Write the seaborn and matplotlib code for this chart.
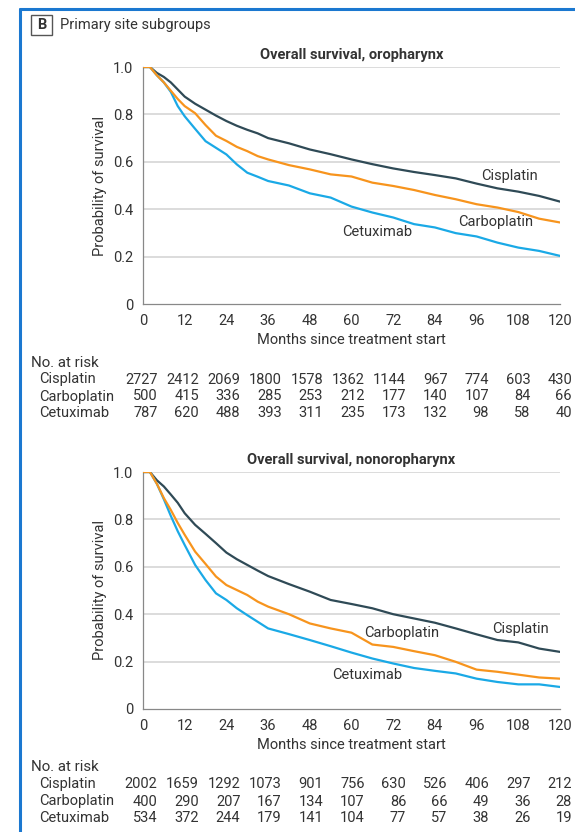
import numpy as np
import pandas as pd
import matplotlib
matplotlib.use("Agg")
import matplotlib.pyplot as plt
import seaborn as sns
from matplotlib.lines import Line2D
from matplotlib.patches import Rectangle

# ---------------- data ----------------
months = [0, 2, 4, 6, 8, 10, 12, 15, 18, 21, 24, 27, 30, 33, 36, 42, 48, 54,
          60, 66, 72, 78, 84, 90, 96, 102, 108, 114, 120]
series_names = ["Cisplatin", "Carboplatin", "Cetuximab"]

oro_cisplatin = [1.0, 1.0, 0.975, 0.958, 0.935, 0.905, 0.875, 0.845, 0.82, 0.795, 0.772,
                 0.752, 0.735, 0.72, 0.70, 0.678, 0.652, 0.632, 0.61, 0.59, 0.572, 0.557,
                 0.544, 0.53, 0.508, 0.488, 0.474, 0.456, 0.432]
oro_carboplatin = [1.0, 1.0, 0.965, 0.935, 0.90, 0.865, 0.835, 0.805, 0.755, 0.71, 0.688,
                   0.663, 0.645, 0.624, 0.61, 0.586, 0.568, 0.547, 0.538, 0.512, 0.498,
                   0.481, 0.46, 0.442, 0.421, 0.407, 0.388, 0.36, 0.344]
oro_cetuximab = [1.0, 1.0, 0.965, 0.935, 0.895, 0.835, 0.792, 0.739, 0.687, 0.659, 0.631,
                 0.589, 0.554, 0.537, 0.519, 0.50, 0.467, 0.449, 0.411, 0.386, 0.365,
                 0.337, 0.323, 0.299, 0.285, 0.259, 0.238, 0.224, 0.203]

non_cisplatin = [1.0, 1.0, 0.965, 0.939, 0.905, 0.87, 0.826, 0.777, 0.739, 0.70, 0.66,
                 0.632, 0.608, 0.584, 0.561, 0.527, 0.495, 0.46, 0.443, 0.425, 0.40,
                 0.382, 0.364, 0.34, 0.315, 0.291, 0.281, 0.255, 0.241]
non_carboplatin = [1.0, 1.0, 0.95, 0.89, 0.84, 0.785, 0.735, 0.664, 0.612, 0.559, 0.523,
                   0.502, 0.481, 0.453, 0.432, 0.40, 0.361, 0.34, 0.322, 0.272, 0.262,
                   0.244, 0.227, 0.199, 0.166, 0.157, 0.145, 0.133, 0.128]
non_cetuximab = [1.0, 1.0, 0.95, 0.885, 0.815, 0.75, 0.692, 0.608, 0.544, 0.488, 0.46,
                 0.425, 0.396, 0.368, 0.34, 0.316, 0.291, 0.265, 0.238, 0.213, 0.192,
                 0.173, 0.161, 0.15, 0.128, 0.114, 0.104, 0.104, 0.093]

risk_months = [0, 12, 24, 36, 48, 60, 72, 84, 96, 108, 120]
oro_risk_cisplatin = [2727, 2412, 2069, 1800, 1578, 1362, 1144, 967, 774, 603, 430]
oro_risk_carboplatin = [500, 415, 336, 285, 253, 212, 177, 140, 107, 84, 66]
oro_risk_cetuximab = [787, 620, 488, 393, 311, 235, 173, 132, 98, 58, 40]
non_risk_cisplatin = [2002, 1659, 1292, 1073, 901, 756, 630, 526, 406, 297, 212]
non_risk_carboplatin = [400, 290, 207, 167, 134, 107, 86, 66, 49, 36, 28]
non_risk_cetuximab = [534, 372, 244, 179, 141, 104, 77, 57, 38, 26, 19]

x_ticks = [0, 12, 24, 36, 48, 60, 72, 84, 96, 108, 120]
y_ticks = [0, 0.2, 0.4, 0.6, 0.8, 1.0]
y_tick_labels = ["0", "0.2", "0.4", "0.6", "0.8", "1.0"]

# ---------------- style ----------------
sns.set_theme(style="white")
plt.rcParams["font.family"] = ["Roboto", "DejaVu Sans"]

TXT = "#333333"
palette = {"Cisplatin": "#2f4a56", "Carboplatin": "#f7941d", "Cetuximab": "#1aa9e6"}
draw_order = ["Cisplatin", "Cetuximab", "Carboplatin"]

W, H = 575, 832
fig = plt.figure(figsize=(W / 100, H / 100), dpi=100)

def fx(px):
    return px / W

def fy(py):
    return 1 - py / H

def build_df(vals):
    frames = []
    for name, v in zip(series_names, vals):
        frames.append(pd.DataFrame({"month": months, "surv": v, "group": name}))
    return pd.concat(frames, ignore_index=True)

panels = [
    dict(title="Overall survival, oropharynx", top=67, bottom=304,
         vals=[oro_cisplatin, oro_carboplatin, oro_cetuximab],
         risk=[oro_risk_cisplatin, oro_risk_carboplatin, oro_risk_cetuximab],
         labels={"Cisplatin": (105.5, 0.54), "Carboplatin": (101.5, 0.345),
                 "Cetuximab": (67.5, 0.305)},
         risk_head_y=363, risk_rows=[379.5, 396.5, 413]),
    dict(title="Overall survival, nonoropharynx", top=472, bottom=709,
         vals=[non_cisplatin, non_carboplatin, non_cetuximab],
         risk=[non_risk_cisplatin, non_risk_carboplatin, non_risk_cetuximab],
         labels={"Cisplatin": (108.5, 0.338), "Carboplatin": (74.5, 0.321),
                 "Cetuximab": (64.5, 0.143)},
         risk_head_y=767, risk_rows=[784, 801.5, 818.5]),
]

ax_left, ax_right = 143, 560
for p in panels:
    ax = fig.add_axes([fx(ax_left), fy(p["bottom"]), (ax_right - ax_left) / W,
                       (p["bottom"] - p["top"]) / H])
    df = build_df(p["vals"])
    for name in draw_order:
        sns.lineplot(data=df[df["group"] == name], x="month", y="surv",
                     color=palette[name], lw=1.6, estimator=None, ax=ax,
                     legend=False, zorder=3)
    ax.set_xlim(0, 120)
    ax.set_ylim(0, 1.0)
    ax.set_xticks(x_ticks)
    ax.set_xticklabels([str(t) for t in x_ticks])
    ax.set_yticks(y_ticks)
    ax.set_yticklabels(y_tick_labels)
    ax.tick_params(axis="both", colors="#888888", labelcolor=TXT, labelsize=10.5,
                   length=5, width=0.9, direction="out", pad=2)
    for yv in y_ticks[1:]:
        ax.axhline(yv, color="#d9d9d9", lw=1.3, zorder=1)
    for s in ["top", "right"]:
        ax.spines[s].set_visible(False)
    for s in ["left", "bottom"]:
        ax.spines[s].set_color("#888888")
        ax.spines[s].set_linewidth(0.9)
    ax.set_xlabel("Months since treatment start", fontsize=10.5, color=TXT, labelpad=4)
    ax.set_ylabel("Probability of survival", fontsize=10.5, color=TXT, labelpad=4)
    ax.set_title(p["title"], fontsize=10.5, fontweight="bold", color=TXT, pad=6)
    for name, (lx, ly) in p["labels"].items():
        ax.text(lx, ly, name, fontsize=10.5, color=TXT, ha="center", va="center")
    ax.set_facecolor("none")
    fig.text(fx(31), fy(p["risk_head_y"]), "No. at risk", fontsize=10.8, color=TXT,
             ha="left", va="center")
    for row_y, name, counts in zip(p["risk_rows"], series_names, p["risk"]):
        fig.text(fx(39), fy(row_y), name, fontsize=10.5, color=TXT, ha="left", va="center")
        for i, c in enumerate(counts):
            fig.text(fx(157.5 + 41.45 * i), fy(row_y), str(c), fontsize=10.5, color=TXT,
                     ha="right", va="center")

# panel frame (blue) and header
blue = "#1b78d0"
fig.add_artist(Line2D([fx(19.5), fx(19.5)], [fy(8.5), 0], color=blue, lw=2.2,
                      transform=fig.transFigure))
fig.add_artist(Line2D([fx(19.5), 1], [fy(8.5), fy(8.5)], color=blue, lw=2.2,
                      transform=fig.transFigure))
fig.add_artist(Rectangle((fx(31), fy(35)), fx(21), 20 / H, fill=False, ec="#555555",
                         lw=1.0, transform=fig.transFigure))
fig.text(fx(41.5), fy(25), "B", fontsize=10.5, fontweight="bold", color=TXT,
         ha="center", va="center")
fig.text(fx(60), fy(25), "Primary site subgroups", fontsize=10.5, color=TXT,
         ha="left", va="center")

fig.savefig("out.png", dpi=100)
